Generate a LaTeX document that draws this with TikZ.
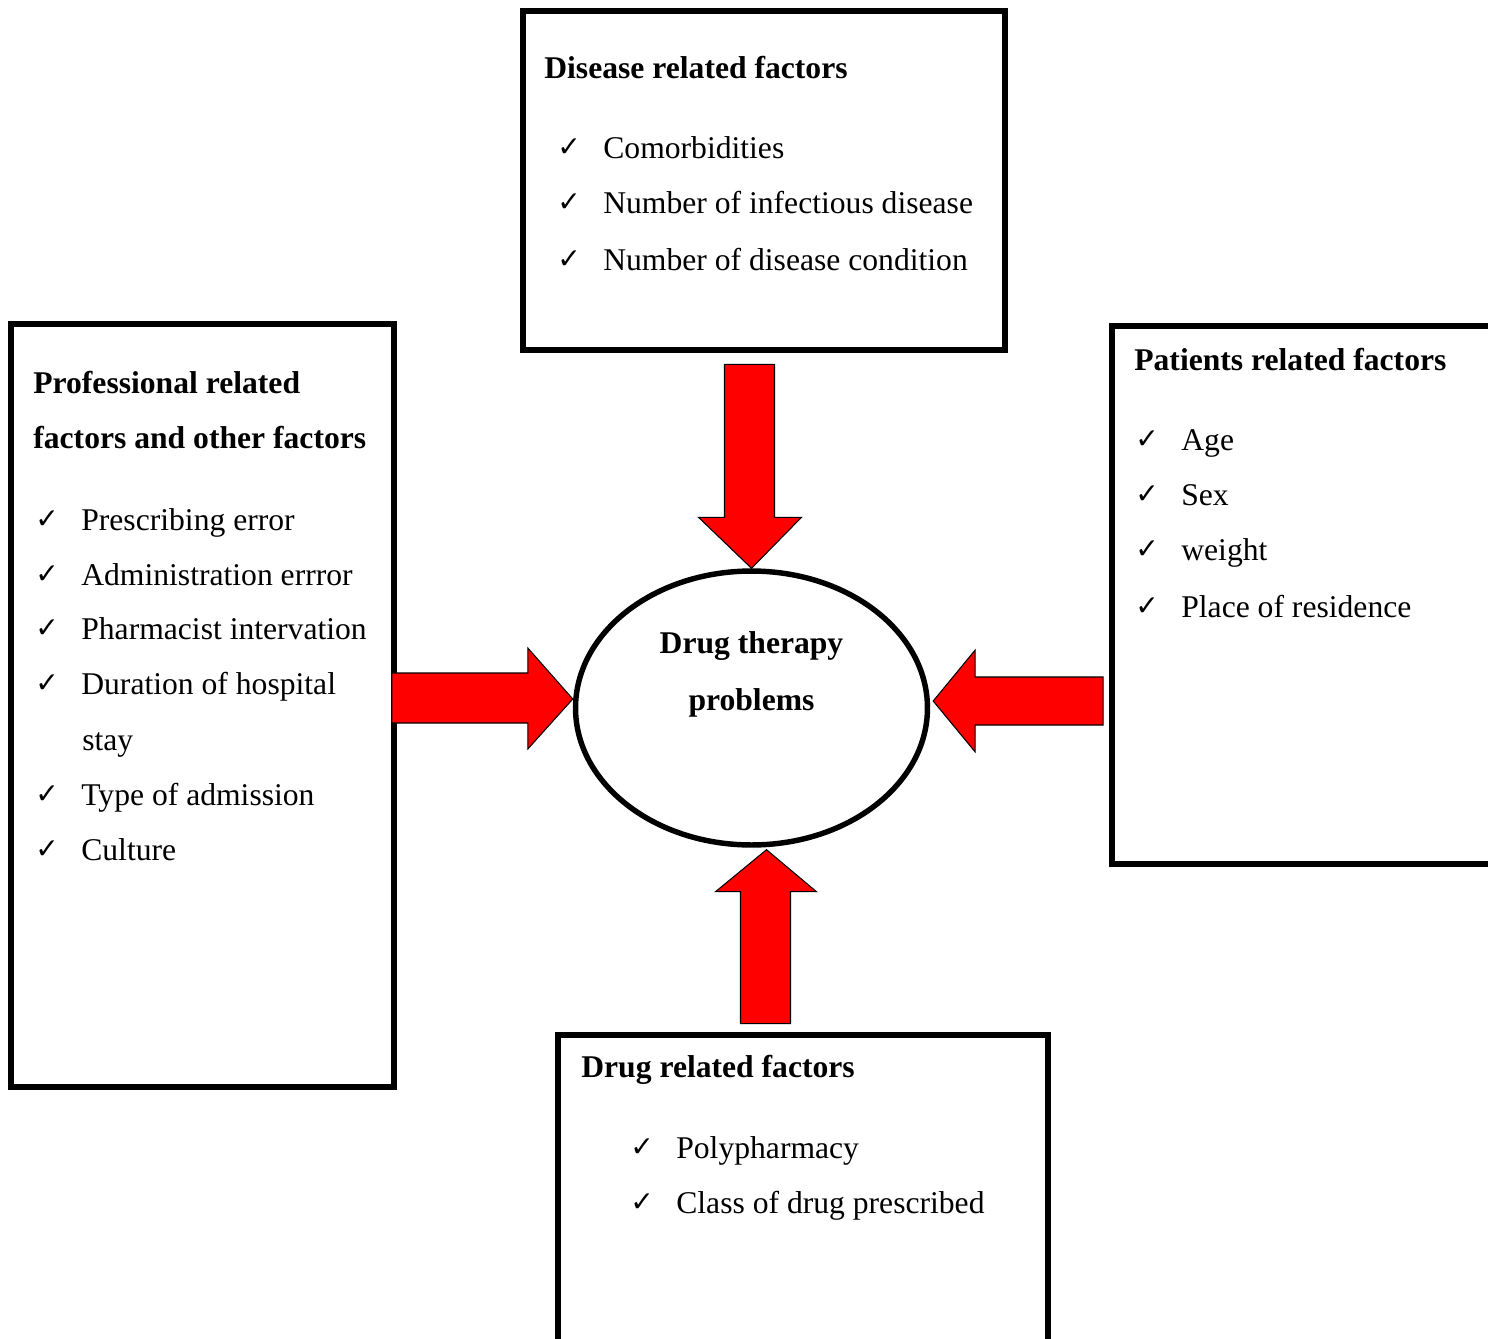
\documentclass[tikz,border=0pt]{standalone}
\usepackage{fontspec}
\setmainfont{Liberation Serif}
\newfontfamily\tickfont{DejaVu Sans}
\usetikzlibrary{shapes.geometric,calc}

\newcommand{\tick}{\makebox[0.92cm][l]{\raisebox{1pt}{\tickfont\fontsize{16}{16}\selectfont ✓}}}

\tikzset{
  factorbox/.style={rectangle,draw,line width=3.4pt,inner sep=0pt},
  heading/.style={anchor=base west,inner sep=0pt,font=\fontsize{18}{22}\selectfont\bfseries},
  item/.style={anchor=base west,inner sep=0pt,font=\fontsize{18}{22}\selectfont},
  bigarrow/.style={draw=black,line width=0.6pt,fill=red,line join=miter}
}

\begin{document}
\begin{tikzpicture}[x=0.02cm,y=-0.02cm]
\useasboundingbox (0,0) rectangle (1488,1339);
\clip (0,0) rectangle (1488,1339);

 % factor boxes
 \node at (764,180.5) [factorbox,minimum width=9.64cm,minimum height=6.78cm] (dis) {};
 \node at (202.5,705.5) [factorbox,minimum width=7.66cm,minimum height=15.26cm] (pro) {};
 \node at (1316,595) [factorbox,minimum width=8.16cm,minimum height=10.76cm] (pat) {};
 \node at (803,1197.5) [factorbox,minimum width=9.8cm,minimum height=6.5cm] (drg) {};

 % centre
 \node at (751.5,708) [ellipse,draw,line width=3.1pt,minimum width=7.04cm,minimum height=5.48cm,inner sep=0pt] (dtp) {};
 \node at (751.5,653) [anchor=base,inner sep=0pt,font=\fontsize{18}{22}\selectfont\bfseries] (dtp1) {Drug therapy};
 \node at (751.5,710) [anchor=base,inner sep=0pt,font=\fontsize{18}{22}\selectfont\bfseries] (dtp2) {problems};

 % disease
 \node at (544,78) [heading] (dish) {Disease related factors};
 \node at (557,158) [item] (dis1) {\tick Comorbidities};
 \node at (557,213) [item] (dis2) {\tick Number of infectious disease};
 \node at (557,270) [item] (dis3) {\tick Number of disease condition};

 % professional
 \node at (33,393) [heading] (proh1) {Professional related};
 \node at (33,448) [heading] (proh2) {factors and other factors};
 \node at (35,530) [item] (pro1) {\tick Prescribing error};
 \node at (35,585) [item] (pro2) {\tick Administration errror};
 \node at (35,639) [item] (pro3) {\tick Pharmacist intervation};
 \node at (35,694) [item] (pro4) {\tick Duration of hospital};
 \node at (82,750) [item] (pro4b) {stay};
 \node at (35,805) [item] (pro5) {\tick Type of admission};
 \node at (35,860) [item] (pro6) {\tick Culture};

 % patients
 \node at (1134,370) [heading] (path) {Patients related factors};
 \node at (1135,450) [item] (pat1) {\tick Age};
 \node at (1135,505) [item] (pat2) {\tick Sex};
 \node at (1135,560) [item] (pat3) {\tick weight};
 \node at (1135,617) [item] (pat4) {\tick Place of residence};

 % drug
 \node at (581,1077) [heading] (drgh) {Drug related factors};
 \node at (630,1158) [item] (drg1) {\tick Polypharmacy};
 \node at (630,1213) [item] (drg2) {\tick Class of drug prescribed};

 % arrows into the ellipse
 \draw[bigarrow] (dtp.north) -- ++(-53,-51) -- ++(26,0) -- ++(0,-153) -- ++(50,0) -- ++(0,153) -- ++(27,0) -- cycle;
 \draw[bigarrow] ($(dtp.west)+(0,-9)$) -- ++(-45,-51) -- ++(0,25) -- ++(-136,0) -- ++(0,50) -- ++(136,0) -- ++(0,26) -- cycle;
 \draw[bigarrow] ($(dtp.east)+(3,-7)$) -- ++(42,-51) -- ++(0,27) -- ++(128,0) -- ++(0,48) -- ++(-128,0) -- ++(0,27) -- cycle;
 \draw[bigarrow] ($(dtp.south)+(15,2)$) -- ++(-51,42) -- ++(25,0) -- ++(0,132) -- ++(50,0) -- ++(0,-132) -- ++(26,0) -- cycle;
\end{tikzpicture}
\end{document}
